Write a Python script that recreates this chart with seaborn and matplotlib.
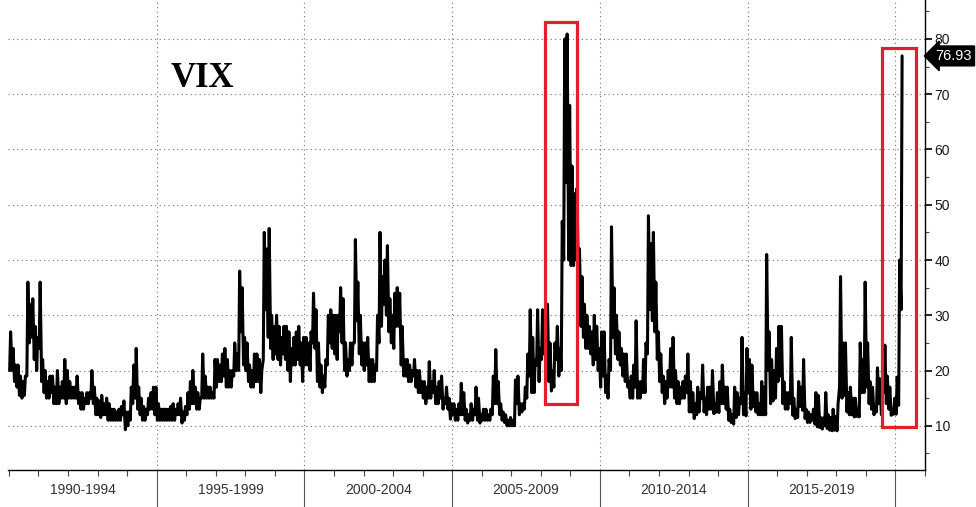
import numpy as np
import pandas as pd
import matplotlib
matplotlib.use('Agg')
import matplotlib.pyplot as plt
from matplotlib.patches import Rectangle
from matplotlib.ticker import MultipleLocator
import seaborn as sns

# VIX, highest and lowest close of each month, Jan 1990 .. Mar 2020
monthly_high = [
    27, 24, 21, 21, 19, 18, 19, 36, 32, 33, 28, 26,          # 1990
    36, 22, 20, 18, 19, 19, 17, 20, 17, 18, 22, 20,          # 1991
    18, 17, 17, 19, 16, 16, 15, 16, 16, 20, 17, 15,          # 1992
    14.5, 15.5, 14, 15, 14, 13, 13, 12.5, 13, 13.5, 14.5, 12.5,  # 1993
    12.5, 17, 21, 24, 17, 15, 13.5, 13, 15, 16, 17, 17,      # 1994
    14, 13, 13, 13, 13, 13.5, 14, 13, 14, 15, 12.5, 13.5,    # 1995
    16, 18, 20, 17, 16, 15, 23, 19, 17, 17, 16, 22,          # 1996
    22, 21, 23, 24, 22, 20, 20, 25, 23, 38, 35, 26,          # 1997
    25, 21, 20, 23, 23, 22, 20, 45, 42, 45.7, 30, 28,        # 1998
    30, 28, 26, 28, 28, 27, 24, 26, 27, 28, 25, 26,          # 1999
    26, 25, 27, 34, 31, 25, 21, 19, 22, 30, 31, 30,          # 2000
    30, 30, 35, 33, 25, 22, 25, 25, 43.7, 36, 30, 25,        # 2001
    25, 26, 22, 22, 21, 30, 45, 37, 40, 42.6, 33, 30,        # 2002
    34, 35, 34, 28, 22, 22, 21, 20, 22, 20, 20, 18,          # 2003
    18, 17, 21.6, 18, 20, 17, 18, 19, 15, 17, 15, 14,        # 2004
    14, 13, 14, 17.7, 16, 13, 12, 14, 13, 17, 15, 12,        # 2005
    13, 13, 12, 13, 19, 23.8, 18, 14, 12.5, 12, 11, 11.5,    # 2006
    11, 18.3, 19, 14, 14, 17, 23, 31, 26, 22, 31, 24,        # 2007
    31, 29, 32, 25, 20, 25, 28, 24, 47, 80, 80.9, 68,        # 2008
    57, 52, 53, 42, 37, 32, 30, 28, 27, 30, 28, 24,          # 2009
    27, 27, 19, 22, 46, 35, 30, 27, 24, 23, 23, 18,          # 2010
    19, 21, 29, 18, 18, 22, 25, 48, 43, 45, 36, 27,          # 2011
    23, 19, 18, 20, 24, 26, 20, 18, 17, 18, 19, 23,          # 2012
    18, 16, 14, 17, 16, 21, 15, 17, 17, 20, 14, 16,          # 2013
    18, 21, 17, 17, 13, 12, 17, 16, 15, 26, 16, 24,          # 2014
    22, 21, 16, 16, 14, 18, 17, 41, 27, 22, 20, 24,          # 2015
    28, 28, 18, 16, 16, 26, 15, 13, 18, 17, 22, 13,          # 2016
    12.5, 12, 13, 16, 15.5, 11.5, 11.4, 16, 12, 11.5, 13, 11.7,  # 2017
    14, 37, 25, 25, 16, 17, 15, 15, 13, 25, 22, 36,          # 2018
    25, 18, 17, 13.5, 20.5, 18.5, 16, 24.6, 19, 17, 13, 15,  # 2019
    18.8, 40, 76.93,                                         # 2020
]
monthly_low = [
    20, 20, 18, 17, 15.5, 15, 15.5, 19, 25, 26, 22, 20,      # 1990
    24, 18, 16, 15, 15, 16, 14, 14, 14, 15, 15, 14,          # 1991
    15, 15, 15, 15, 14, 13, 13, 14, 14, 15, 14, 12,          # 1992
    12, 11.5, 12, 12, 11, 11, 11, 11, 11, 11, 12, 9.3,       # 1993
    10, 11, 14, 15, 13, 12, 11, 11, 12, 13, 13, 12,          # 1994
    11, 11, 11, 11, 11, 11, 11, 11, 12, 12, 10.5, 11,        # 1995
    12, 13, 14, 14, 13, 13, 15, 15, 15, 15, 15, 15,          # 1996
    17, 18, 18, 19, 17, 17, 17, 19, 20, 20, 27, 21,          # 1997
    20, 18, 17, 17, 18, 18, 16, 22, 31, 26, 24, 22,          # 1998
    23, 22, 21, 23, 22, 20, 18, 21, 21, 22, 21, 18,          # 1999
    21, 21, 20, 25, 24, 18, 17, 16, 17, 21, 25, 24,          # 2000
    23, 22, 27, 25, 20, 19, 20, 21, 25, 29, 23, 21,          # 2001
    20, 21, 18, 18, 18, 20, 25, 28, 32, 30, 27, 25,          # 2002
    24, 28, 28, 21, 19, 19, 18, 18, 19, 17, 16, 16,          # 2003
    15, 14, 15, 15, 16, 14, 14, 15, 13, 14, 13, 11.2,        # 2004
    12, 11, 11, 12, 12, 11, 10.5, 11, 11, 12, 11, 10.5,      # 2005
    11, 11, 11, 11, 12, 14, 14, 12, 11, 10.6, 10, 10,        # 2006
    10, 10, 14, 12, 12.5, 13, 15, 19, 16, 16, 21, 18,        # 2007
    22, 23, 24, 18, 16.3, 17, 22, 19, 20, 40, 54, 40,        # 2008
    39, 39, 40, 35, 28, 26, 24, 24, 23, 21, 22, 20,          # 2009
    17, 19, 16, 15, 20, 26, 23, 22, 21, 19, 18, 17,          # 2010
    15, 15, 17, 15, 15, 16, 16, 23, 31, 29, 27, 22,          # 2011
    18, 16, 14, 15, 17, 17, 15, 14, 14, 15, 15, 16,          # 2012
    12.5, 12.5, 11.3, 12, 12.5, 15, 12.5, 12, 13, 13, 12.2, 12.5,  # 2013
    12.4, 14, 14, 13, 11, 10.6, 10.3, 11.5, 12, 14, 12, 11.8,  # 2014
    16, 13, 13.5, 12.5, 12, 12, 12, 12, 20, 14, 14.5, 15,    # 2015
    18, 19, 14, 13, 13, 14, 11.9, 11.3, 11.5, 13.5, 12.8, 11.3,  # 2016
    10.6, 10.6, 11, 10.3, 9.8, 9.7, 9.4, 10, 9.5, 9.2, 9.1, 9.2,  # 2017
    9.1, 17, 15, 15.5, 12.5, 12, 12, 11.6, 11.7, 11.6, 16, 16,  # 2018
    17, 14, 13, 12, 12.5, 14, 12, 16, 14, 13, 11.9, 12.1,    # 2019
    12.1, 13.7, 31,                                          # 2020
]
last_value = 76.93
period_starts = [1990, 1995, 2000, 2005, 2010, 2015]
period_labels = ['1990-1994', '1995-1999', '2000-2004', '2005-2009', '2010-2014', '2015-2019']
y_ticks = [10, 20, 30, 40, 50, 60, 70, 80]

# zigzag low/high inside each month so the line looks like the daily band
n = len(monthly_high)
idx = np.arange(n)
t = np.column_stack([1990 + (idx + 0.3) / 12, 1990 + (idx + 0.7) / 12]).ravel()
v = np.column_stack([monthly_low, monthly_high]).ravel()
df = pd.DataFrame({'year': t, 'vix': v})

sns.set_style('white')
fig = plt.figure(figsize=(9.76, 5.07), dpi=100)
ax = fig.add_axes([8 / 976, 37 / 507, 917 / 976, 470 / 507])

dot = (0, (1, 3))
for y in y_ticks:
    ax.axhline(y, color='#707070', lw=0.8, ls=dot, zorder=0)
for x in period_starts[1:] + [2020]:
    ax.axvline(x, color='#707070', lw=0.8, ls=dot, zorder=0)

sns.lineplot(data=df, x='year', y='vix', color='black', linewidth=2.2,
             estimator=None, sort=False, ax=ax)

# red highlight boxes
for x0, x1, y0, y1 in [(2008.14, 2009.21, 14.0, 83.1), (2019.56, 2020.69, 9.8, 78.3)]:
    ax.add_patch(Rectangle((x0, y0), x1 - x0, y1 - y0, fill=False,
                           ec='#e0212b', lw=2.3, zorder=5))

ax.set_xlim(1989.97, 2021.0)
ax.set_ylim(2.0, 87.05)
ax.set_xlabel('')
ax.set_ylabel('')

for s in ['left', 'top']:
    ax.spines[s].set_visible(False)
for s in ['right', 'bottom']:
    ax.spines[s].set_color('black')
    ax.spines[s].set_linewidth(1.0)

ax.yaxis.tick_right()
ax.set_yticks(y_ticks)
ax.yaxis.set_minor_locator(MultipleLocator(5))
ax.tick_params(axis='y', which='both', left=False, right=True, direction='out')
ax.tick_params(axis='y', which='major', length=5, width=1.2, colors='black',
               labelcolor='#1a1a1a', labelsize=10, pad=2)
ax.tick_params(axis='y', which='minor', length=3, width=0.8, colors='#444444')
for lab in ax.get_yticklabels():
    lab.set_family('Liberation Sans')

ax.set_xticks(period_starts[1:] + [2020])
ax.set_xticklabels([])
ax.xaxis.set_minor_locator(MultipleLocator(1))
ax.tick_params(axis='x', which='both', bottom=True, top=False, direction='out')
ax.tick_params(axis='x', which='major', length=34, width=0.8, colors='#555555')
ax.tick_params(axis='x', which='minor', length=4, width=0.8, colors='#444444')

for start, lab in zip(period_starts, period_labels):
    ax.text(start + 2.5, -0.043, lab, transform=ax.get_xaxis_transform(),
            ha='center', va='center', fontsize=10, color='#333333',
            family='Liberation Sans')

ax.text(1.011, last_value, f'{last_value:.2f}', transform=ax.get_yaxis_transform(),
        ha='left', va='center', fontsize=10.5, color='white', family='Liberation Sans',
        bbox=dict(boxstyle='larrow,pad=0.2', fc='black', ec='black'))

fig.text(0.207, 0.846, 'VIX', fontsize=25, fontweight='bold', color='black',
         family='Liberation Serif', ha='center', va='center')

fig.savefig('out.png', dpi=100)
